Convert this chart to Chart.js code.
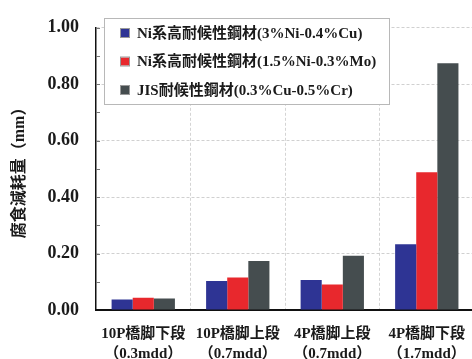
<!DOCTYPE html>
<html>
<head>
<meta charset="utf-8">
<script src="https://cdn.jsdelivr.net/npm/chart.js@4/dist/chart.umd.min.js"></script>
<style>
  html, body { margin: 0; padding: 0; background: #fff; overflow: hidden; }
  #wrap { position: relative; width: 480px; height: 359px; }
</style>
</head>
<body>
<div id="wrap"><canvas id="c" width="480" height="359"></canvas></div>
<script>
// Test sites (exposure: airborne sulfur, mdd)
const sites = [
  ['10P橋脚下段', '（0.3mdd）'],
  ['10P橋脚上段', '（0.7mdd）'],
  ['4P橋脚上段', '（0.7mdd）'],
  ['4P橋脚下段', '（1.7mdd）']
];
// Steel grades
const seriesNames = [
  'Ni系高耐候性鋼材(3%Ni-0.4%Cu)',
  'Ni系高耐候性鋼材(1.5%Ni-0.3%Mo)',
  'JIS耐候性鋼材(0.3%Cu-0.5%Cr)'
];
// Corrosion loss (mm)
const niCu = [0.037, 0.103, 0.106, 0.233];
const niMo = [0.043, 0.115, 0.090, 0.488];
const jis  = [0.041, 0.174, 0.192, 0.874];
const seriesColors = ['#2e3494', '#e8282d', '#454d4f'];
const yTitle = '腐食減耗量（mm）';

const FAMILY = '"Liberation Serif", "Noto Sans CJK JP", serif';

// Short inward tick marks on the value axis, every 0.1
const innerTicks = {
  id: 'innerTicks',
  afterDatasetsDraw(chart) {
    const y = chart.scales.y, ctx = chart.ctx;
    const x0 = chart.chartArea.left;
    ctx.save();
    ctx.strokeStyle = '#777';
    ctx.lineWidth = 1;
    for (let i = 1; i <= 10; i++) {
      const py = Math.round(y.getPixelForValue(i / 10)) + 0.5;
      ctx.beginPath();
      ctx.moveTo(x0, py);
      ctx.lineTo(x0 + 4, py);
      ctx.stroke();
    }
    ctx.restore();
  }
};

// Boxed legend inside the plot area
const boxLegend = {
  id: 'boxLegend',
  afterDraw(chart) {
    const ctx = chart.ctx;
    const bx = 104.5, by = 18.5, bw = 285, bh = 86;
    ctx.save();
    ctx.fillStyle = '#fff';
    ctx.fillRect(bx, by, bw, bh);
    ctx.strokeStyle = '#b8b8b8';
    ctx.lineWidth = 1;
    ctx.strokeRect(bx, by, bw, bh);
    ctx.font = 'bold 15px ' + FAMILY;
    ctx.textBaseline = 'middle';
    chart.data.datasets.forEach((ds, i) => {
      const cy = 33 + i * 28.5;
      ctx.fillStyle = ds.backgroundColor;
      ctx.fillRect(121, cy - 4, 8, 8);
      ctx.strokeStyle = '#999';
      ctx.strokeRect(120.5, cy - 4.5, 9, 9);
      ctx.fillStyle = '#1a1a1a';
      ctx.fillText(ds.label, 137, cy + 1);
    });
    ctx.restore();
  }
};

new Chart(document.getElementById('c'), {
  type: 'bar',
  data: {
    labels: sites,
    datasets: [
      { label: seriesNames[0], data: niCu, backgroundColor: seriesColors[0] },
      { label: seriesNames[1], data: niMo, backgroundColor: seriesColors[1] },
      { label: seriesNames[2], data: jis,  backgroundColor: seriesColors[2] }
    ]
  },
  options: {
    responsive: false,
    animation: false,
    devicePixelRatio: 1,
    layout: { padding: { left: 0, top: 18, right: 2, bottom: 0 } },
    datasets: { bar: { categoryPercentage: 0.67, barPercentage: 1.0 } },
    plugins: { legend: { display: false }, tooltip: { enabled: false } },
    scales: {
      x: {
        afterFit(s) { s.height = 49; },
        grid: { color: '#d4d4d4', lineWidth: 1, drawTicks: false, offset: true },
        border: { color: '#111', width: 2, dash: [3, 2] },
        ticks: {
          color: '#1a1a1a',
          padding: 14,
          font: { family: FAMILY, size: 15, weight: 'bold', lineHeight: '20px' },
          maxRotation: 0
        }
      },
      y: {
        min: 0,
        max: 1,
        afterFit(s) { s.width = 96; },
        grid: {
          drawTicks: false,
          lineWidth: 1,
          color(ctx) {
            const v = Math.round((ctx.tick ? ctx.tick.value : 0) * 10);
            return (v > 0 && v % 2 === 0) ? '#d0d0d0' : 'rgba(0,0,0,0)';
          }
        },
        border: { color: '#111', width: 1.5, dash: [3, 2] },
        ticks: {
          stepSize: 0.1,
          padding: 17,
          color: '#1a1a1a',
          font: { family: FAMILY, size: 18, weight: 'bold' },
          callback(v) {
            const k = Math.round(v * 10);
            return k % 2 === 0 ? (k / 10).toFixed(2) : '';
          }
        },
        title: {
          display: true,
          text: yTitle,
          color: '#1a1a1a',
          padding: { top: 10, bottom: 0 },
          font: { family: FAMILY, size: 16, weight: 'bold' }
        }
      }
    }
  },
  plugins: [innerTicks, boxLegend]
});
</script>
</body>
</html>
